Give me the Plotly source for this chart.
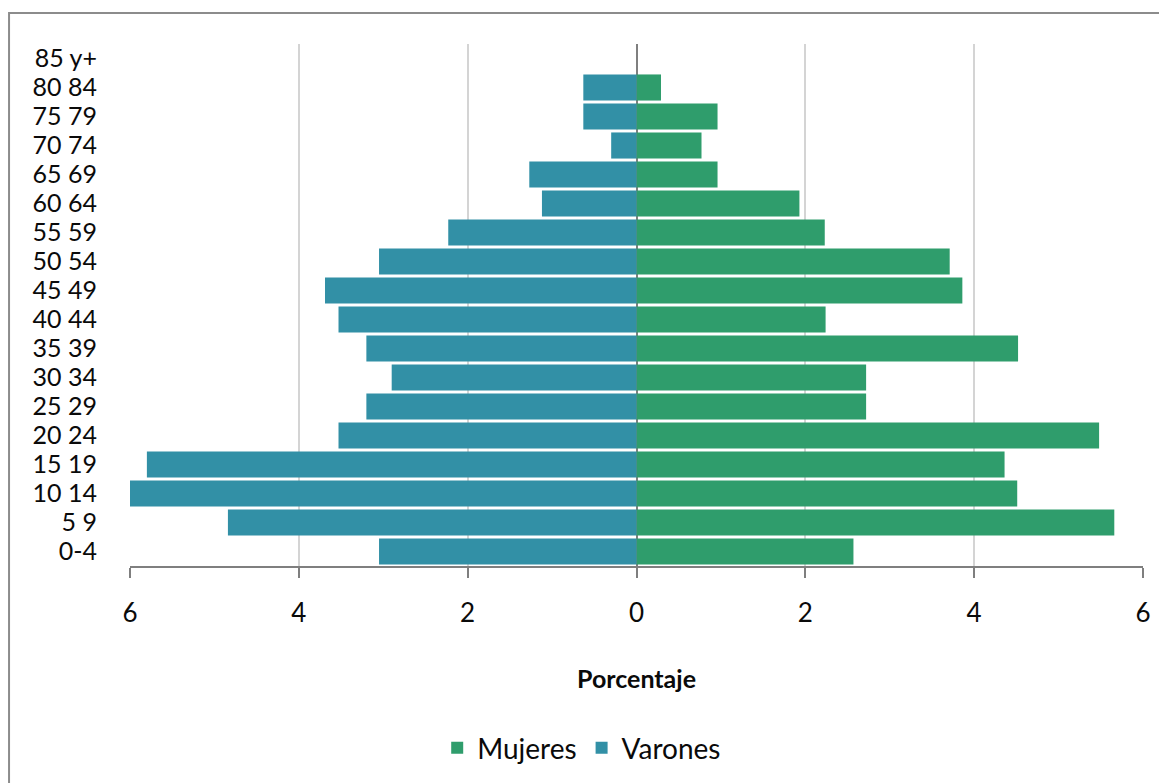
import plotly.graph_objects as go

age_groups = ["0-4", "5 9", "10 14", "15 19", "20 24", "25 29", "30 34", "35 39",
              "40 44", "45 49", "50 54", "55 59", "60 64", "65 69", "70 74",
              "75 79", "80 84", "85 y+"]
mujeres = [2.57, 5.66, 4.51, 4.36, 5.48, 2.72, 2.72, 4.52, 2.24, 3.86, 3.71,
           2.23, 1.93, 0.96, 0.77, 0.96, 0.29, 0.0]
varones = [3.05, 4.84, 6.00, 5.80, 3.53, 3.20, 2.90, 3.20, 3.53, 3.69, 3.05,
           2.23, 1.12, 1.27, 0.30, 0.63, 0.63, 0.0]
tick_vals = [-6, -4, -2, 0, 2, 4, 6]
tick_text = ["6", "4", "2", "0", "2", "4", "6"]

FONT = "Lato"
GREEN = "#2f9d6c"
TEAL = "#3290a6"

fig = go.Figure()
fig.add_trace(go.Bar(y=age_groups, x=mujeres, orientation="h", name="Mujeres",
                     marker=dict(color=GREEN, line=dict(width=0))))
fig.add_trace(go.Bar(y=age_groups, x=[-v for v in varones], orientation="h", name="Varones",
                     marker=dict(color=TEAL, line=dict(width=0))))

fig.update_layout(
    width=1159, height=775,
    margin=dict(l=122, r=24, t=36, b=217),
    paper_bgcolor="white", plot_bgcolor="white",
    barmode="relative", bargap=0.1,
    font=dict(family=FONT, size=24, color="#0a0a0a"),
    showlegend=True,
    legend=dict(orientation="h", xref="container", yref="container",
                x=0.495, xanchor="center", y=0.045, yanchor="middle",
                font=dict(size=28, family=FONT), itemsizing="constant",
                traceorder="normal", itemwidth=30),
    xaxis=dict(range=[-6, 6], tickvals=tick_vals, ticktext=tick_text,
               showgrid=True, gridcolor="#d4d4d4", gridwidth=2,
               zeroline=True, zerolinecolor="#7f7f7f", zerolinewidth=2,
               showline=True, linecolor="#7f7f7f", linewidth=2,
               ticks="outside", ticklen=10, tickwidth=2, tickcolor="#7f7f7f",
               ticklabelstandoff=13, tickfont=dict(size=26, family=FONT),
               automargin=False, fixedrange=True),
    yaxis=dict(categoryorder="array", categoryarray=age_groups,
               tickmode="array", tickvals=age_groups, ticktext=age_groups,
               showgrid=False, showline=False, ticks="",
               tickfont=dict(size=25, family=FONT), ticklabelstandoff=32,
               range=[-0.5, 17.5], automargin=False, fixedrange=True),
    shapes=[dict(type="rect", xref="paper", yref="paper",
                 x0=-0.1194, x1=1.05, y0=-0.5, y1=1.0594,
                 line=dict(color="#8c8c8c", width=2), layer="below")],
    annotations=[dict(text="<b>Porcentaje</b>", xref="paper", yref="paper",
                      x=0.5, y=-0.2146, xanchor="center", yanchor="middle",
                      showarrow=False, font=dict(size=25, family=FONT, color="#0a0a0a"))],
)

fig.write_html("out.html")
